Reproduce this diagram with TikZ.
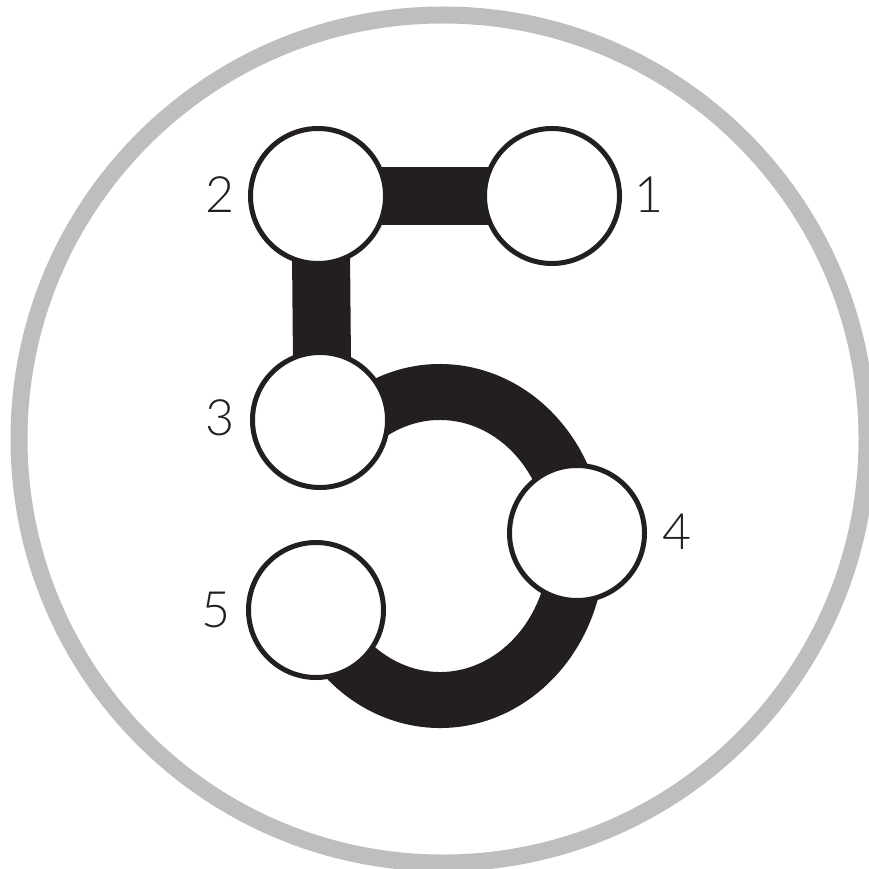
\documentclass[tikz,border=0pt]{standalone}
\usepackage{fontspec}
\newfontfamily\numfont{Lato Light}
\usetikzlibrary{backgrounds}
\definecolor{ink}{HTML}{231F20}
\definecolor{ringgray}{HTML}{BCBEC0}
\tikzset{
  spot/.style={circle,draw=ink,fill=white,line width=1mm,minimum size=27mm,inner sep=0pt},
  numlabel/.style={inner sep=0pt,text=ink,font=\numfont\fontsize{28.5}{30}\selectfont},
  bar/.style={draw=ink,line width=11.6mm},
  bowl/.style={draw=ink,line width=11.2mm}
}
\begin{document}
\begin{tikzpicture}[x=0.2mm,y=-0.2mm]
\useasboundingbox (0,0) rectangle (868,869);
\clip (0,0) rectangle (868,869);
\node[spot] (c1) at (552,196) {};
\node[spot] (c2) at (318,196) {};
\node[spot] (c3) at (320,420) {};
\node[spot] (c4) at (577,533) {};
\node[spot] (c5) at (316,610) {};
\node[numlabel] (n1) at (649.5,195) {1};
\node[numlabel] (n2) at (220,195) {2};
\node[numlabel] (n3) at (220.5,418) {3};
\node[numlabel] (n4) at (677.5,532) {4};
\node[numlabel] (n5) at (216,610) {5};
\coordinate (bowlc) at (440,546);
\begin{pgfonlayer}{background}
\draw[ringgray,line width=3.4mm] (443,439) circle (424);
\draw[bar] (c2.center) -- (c1.center);
\draw[bar] ([xshift=0.5mm]c2.center) -- ([xshift=0.5mm]c3.center);
\draw[bowl] (bowlc) ++(-125:137 and 154) arc[start angle=-125,end angle=145,x radius=137,y radius=154];
\end{pgfonlayer}
\end{tikzpicture}
\end{document}
